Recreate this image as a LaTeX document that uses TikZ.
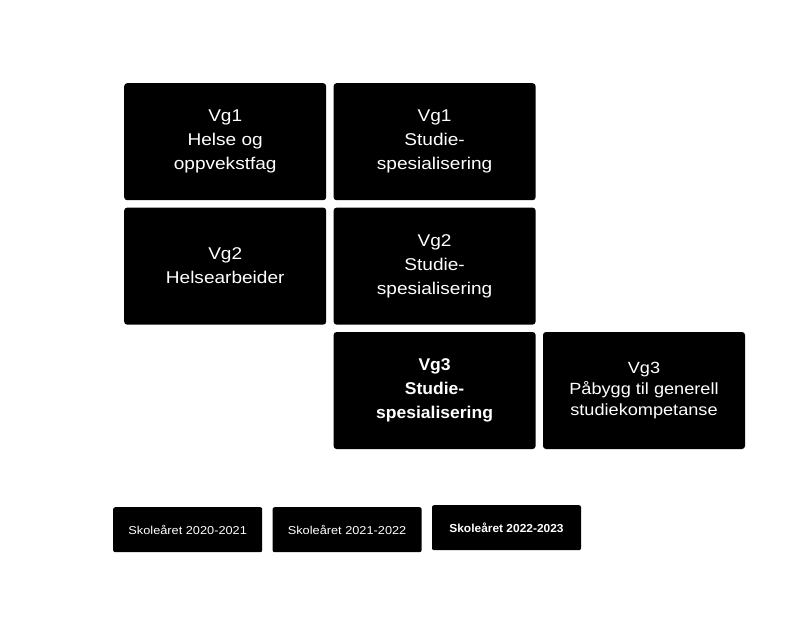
\documentclass[tikz,border=0pt]{standalone}
\usepackage{fontspec}
\setmainfont{Liberation Sans}
\newfontfamily\boxfont[FakeStretch=1.12]{Liberation Sans}
\newfontfamily\boldboxfont[FakeStretch=1.03]{Liberation Sans}
\usetikzlibrary{positioning}

\begin{document}
\begin{tikzpicture}[x=1pt, y=-1pt,
  course/.style={fill=black, text=white, rounded corners=3pt, minimum width=202pt, minimum height=117pt, inner sep=0pt, align=center, font=\boxfont\fontsize{17}{24}\selectfont},
  schoolyear/.style={fill=black, text=white, rounded corners=2pt, minimum width=149pt, minimum height=45pt, inner sep=0pt, align=center, font=\boxfont\fontsize{11.4}{14}\selectfont}]
\useasboundingbox (0,0) rectangle (805,625);

% programme boxes
\node[course, anchor=north west] (vg1helse) at (124,83) {Vg1\\Helse og\\oppvekstfag};
\node[course, right=7pt of vg1helse] (vg1studie) {Vg1\\Studie-\\spesialisering};
\node[course, below=7pt of vg1helse] (vg2helse) {Vg2\\Helsearbeider};
\node[course, below=7pt of vg1studie] (vg2studie) {Vg2\\Studie-\\spesialisering};
\node[course, below=7pt of vg2studie, font=\boldboxfont\bfseries\fontsize{17}{24}\selectfont] (vg3studie) {Vg3\\Studie-\\spesialisering};
\node[course, right=7pt of vg3studie, font=\boxfont\fontsize{16.2}{21}\selectfont] (vg3paabygg) {Vg3\\Påbygg til generell\\studiekompetanse};

% school years
\node[schoolyear, anchor=north west] (year1) at (113,507) {Skoleåret 2020-2021};
\node[schoolyear, right=10pt of year1] (year2) {Skoleåret 2021-2022};
\node[schoolyear, right=10pt of year2, yshift=2pt, font=\boldboxfont\bfseries\fontsize{11.6}{14}\selectfont] (year3) {Skoleåret 2022-2023};
\end{tikzpicture}
\end{document}
